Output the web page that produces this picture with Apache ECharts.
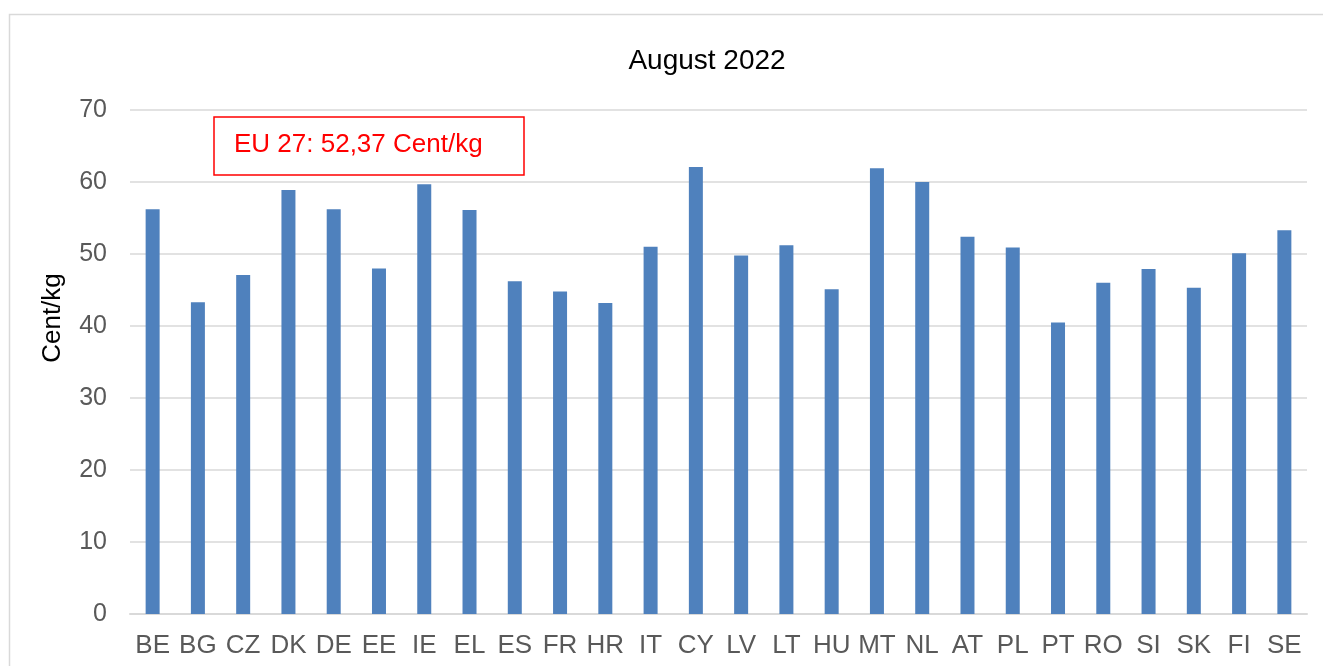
<!DOCTYPE html>
<html>
<head>
<meta charset="utf-8">
<script src="https://cdn.jsdelivr.net/npm/echarts@6/dist/echarts.min.js"></script>
<style>
  html, body { margin: 0; padding: 0; background: #fff; }
  #chart { width: 1323px; height: 666px; }
</style>
</head>
<body>
<div id="chart"></div>
<script>
  var countries = ['BE', 'BG', 'CZ', 'DK', 'DE', 'EE', 'IE', 'EL', 'ES', 'FR', 'HR', 'IT', 'CY', 'LV',
    'LT', 'HU', 'MT', 'NL', 'AT', 'PL', 'PT', 'RO', 'SI', 'SK', 'FI', 'SE']
  var prices = [56.2, 43.3, 47.1, 58.9, 56.2, 48.0, 59.7, 56.1, 46.2, 44.8, 43.2, 51.0, 62.1, 49.8,
    51.2, 45.1, 61.9, 60.0, 52.4, 50.9, 40.5, 46.0, 47.9, 45.3, 50.1, 53.3]
  var euNote = 'EU 27: 52,37 Cent/kg'

  var font = 'Liberation Sans, Arial, sans-serif'
  var chart = echarts.init(document.getElementById('chart'))
  var option = {
    animation: false,
    title: {
      text: 'August 2022',
      left: 702,
      top: 42,
      textAlign: 'center',
      textStyle: { fontFamily: font, fontSize: 28, fontWeight: 'normal', color: '#000' }
    },
    grid: { left: 130, right: 16, top: 110, bottom: 52 },
    xAxis: {
      type: 'category',
      data: countries,
      axisTick: { show: false },
      axisLine: { lineStyle: { color: '#d9d9d9', width: 2 } },
      axisLabel: { interval: 0, margin: 19, fontFamily: font, fontSize: 26, color: '#595959' }
    },
    yAxis: {
      type: 'value',
      min: 0,
      max: 70,
      interval: 10,
      axisLine: { show: false },
      axisTick: { show: false },
      splitLine: { lineStyle: { color: '#d9d9d9', width: 1.5 } },
      axisLabel: { margin: 23, fontFamily: font, fontSize: 25, color: '#595959' }
    },
    series: [{
      type: 'bar',
      data: prices,
      barWidth: 14,
      itemStyle: { color: '#4f81bd' }
    }],
    graphic: [
      {
        type: 'rect',
        silent: true,
        shape: { x: 9.5, y: 14.5, width: 1340, height: 700 },
        style: { fill: 'none', stroke: '#d9d9d9', lineWidth: 1.5 }
      },
      {
        type: 'text',
        x: 53,
        y: 318,
        rotation: Math.PI / 2,
        style: {
          text: 'Cent/kg', fontFamily: font, fontSize: 26, fill: '#000',
          align: 'center', verticalAlign: 'middle'
        }
      },
      {
        type: 'rect',
        shape: { x: 214, y: 117, width: 310, height: 58 },
        style: { fill: '#fff', stroke: '#ff0000', lineWidth: 1.5 }
      },
      {
        type: 'text',
        x: 234,
        y: 145,
        style: {
          text: euNote, fontFamily: font, fontSize: 26, fill: '#ff0000',
          verticalAlign: 'middle'
        }
      }
    ]
  }
  chart.setOption(option)
</script>
</body>
</html>
